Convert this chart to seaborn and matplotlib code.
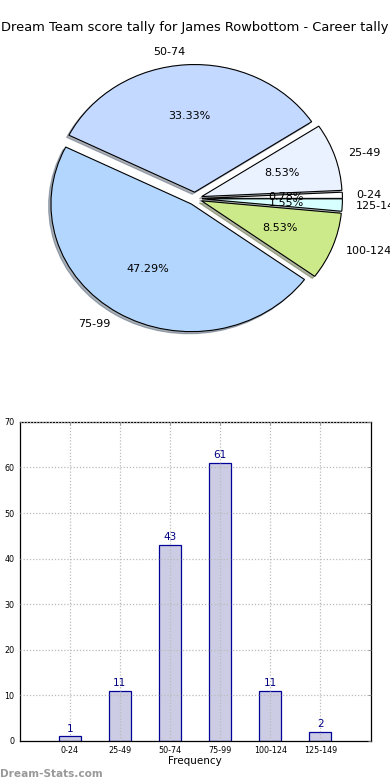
import matplotlib
matplotlib.use('Agg')
import matplotlib.pyplot as plt
import seaborn as sns
import pandas as pd

# score bands and counts
bands = ['0-24', '25-49', '50-74', '75-99', '100-124', '125-149']
counts = [1, 11, 43, 61, 11, 2]
pie_colors = ['#FFFFFF', '#EAF1FF', '#C4D9FF', '#B3D6FF', '#CDEA8A', '#D8FFFF']
title = 'Dream Team score tally for James Rowbottom - Career tally'

df = pd.DataFrame({'band': bands, 'count': counts})

sns.set_style('white')
plt.rcParams['font.family'] = ['DejaVu Sans']
plt.rcParams['text.color'] = 'black'
plt.rcParams['axes.labelcolor'] = 'black'
plt.rcParams['xtick.color'] = 'black'
plt.rcParams['ytick.color'] = 'black'

fig, (ax1, ax2) = plt.subplots(2, 1, figsize=(3.9, 7.8), dpi=100)
fig.subplots_adjust(left=0.05, right=0.95, top=0.95, bottom=0.05, hspace=0.2)

# pie
ax1.pie(df['count'], labels=df['band'], colors=pie_colors, autopct='%1.2f%%',
        explode=[0.05] * len(bands),
        shadow={'ox': -0.012, 'oy': -0.012, 'shade': 0.55},
        startangle=0,
        wedgeprops={'edgecolor': 'black', 'linewidth': 0.8},
        textprops={'fontsize': 8})
ax1.set_aspect('auto')
ax1.set_xlim(-1.25, 1.25)
ax1.set_ylim(-1.25, 1.25)
ax1.set_title(title, fontsize=9.4)

# bars
xpos = list(range(1, len(bands) + 1))
sns.barplot(x=xpos, y=df['count'], ax=ax2, native_scale=True, width=0.44,
            color='#CCCCE5', edgecolor='#000099', linewidth=0.9, saturation=1)
for x, c in zip(xpos, counts):
    ax2.text(x, c + 0.6, str(c), ha='center', va='bottom', color='#000080', fontsize=7.5)
ax2.set_xlim(0, 7)
ax2.set_ylim(0, 70)
ax2.set_xticks(xpos)
ax2.set_xticklabels(bands, fontsize=5.8)
ax2.set_yticks(range(0, 71, 10))
ax2.tick_params(axis='y', labelsize=5.8)
ax2.tick_params(top=True, right=True, direction='in', length=2, width=0.6, color='#888888')
ax2.set_xlabel('Frequency', fontsize=7.5, labelpad=1)
ax2.set_ylabel('')
ax2.grid(True, linestyle=(0, (1, 1.5)), color='#BBBBBB', linewidth=0.9)
ax2.set_axisbelow(False)
for s in ax2.spines.values():
    s.set_color('black')
    s.set_linewidth(0.9)

fig.text(0.0, 0.004, 'Dream-Stats.com', color='#999999', fontsize=7.6, fontweight='bold')

fig.savefig('out.png', dpi=100)
